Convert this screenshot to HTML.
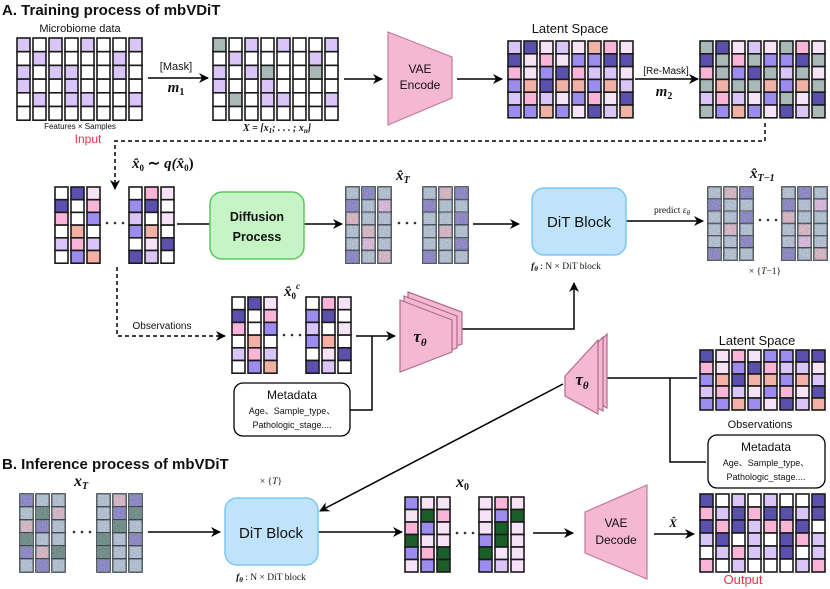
<!DOCTYPE html>
<html><head><meta charset="utf-8"><style>
body{margin:0;background:#fff}
svg{display:block}
text{font-family:"Liberation Sans",sans-serif;fill:#111}
.m{font-family:"Liberation Serif",serif;font-style:italic;font-weight:bold}
.s{font-family:"Liberation Serif",serif}
</style></head><body>
<svg id="s" width="830" height="589" viewBox="0 0 830 589" xmlns="http://www.w3.org/2000/svg">
<defs>
<marker id="a" markerWidth="10" markerHeight="10" refX="9" refY="5" orient="auto" markerUnits="userSpaceOnUse"><path d="M0,0 L10,5 L0,10 L3,5 Z" fill="#000"/></marker>
<filter id="nz" x="0" y="0" width="100%" height="100%"><feTurbulence type="fractalNoise" baseFrequency="1.3" numOctaves="1" seed="3"/><feColorMatrix type="matrix" values="1.6 0 0 0 -0.3  0 1.6 0 0 -0.3  0 0 1.8 0 -0.2  0 0 0 0 1"/></filter>
</defs>
<g id="g"></g>
<g fill="none" stroke="#000" stroke-width="1.5">
<line x1="148" y1="78" x2="208" y2="78" marker-end="url(#a)"/>
<line x1="344" y1="79" x2="382" y2="79" marker-end="url(#a)"/>
<line x1="457" y1="79" x2="502" y2="79" marker-end="url(#a)"/>
<line x1="635" y1="79" x2="698" y2="79" marker-end="url(#a)"/>
<polyline points="765,123 765,141 115,141 115,189" stroke-dasharray="4,3" marker-end="url(#a)"/>
<line x1="177" y1="224" x2="210" y2="224"/>
<line x1="304" y1="224" x2="342" y2="224" marker-end="url(#a)"/>
<line x1="473" y1="224" x2="519" y2="224" marker-end="url(#a)"/>
<line x1="626" y1="221" x2="703" y2="221" marker-end="url(#a)"/>
<polyline points="117,267 117,336 225,336" stroke-dasharray="4,3" marker-end="url(#a)"/>
<line x1="356" y1="336" x2="395" y2="336" marker-end="url(#a)"/>
<polyline points="350,410 372,410 372,336"/>
<polyline points="452,329 574,329 574,283" marker-end="url(#a)"/>
<line x1="604" y1="378" x2="697" y2="378"/>
<polyline points="670,378 670,462 706,462"/>
<line x1="563" y1="384" x2="320" y2="511" marker-end="url(#a)"/>
<line x1="148" y1="532" x2="220" y2="532" marker-end="url(#a)"/>
<line x1="318" y1="532" x2="402" y2="532" marker-end="url(#a)"/>
<line x1="533" y1="533" x2="573" y2="533" marker-end="url(#a)"/>
<line x1="654" y1="534" x2="694" y2="534" marker-end="url(#a)"/>
</g>
<g fill="#333">
<circle cx="107" cy="223" r="1.3"/><circle cx="115" cy="223" r="1.3"/><circle cx="123" cy="223" r="1.3"/>
<circle cx="399" cy="223" r="1.3"/><circle cx="407" cy="223" r="1.3"/><circle cx="415" cy="223" r="1.3"/>
<circle cx="760" cy="220" r="1.3"/><circle cx="768" cy="220" r="1.3"/><circle cx="776" cy="220" r="1.3"/>
<circle cx="284" cy="335" r="1.3"/><circle cx="292" cy="335" r="1.3"/><circle cx="300" cy="335" r="1.3"/>
<circle cx="74" cy="532" r="1.3"/><circle cx="82" cy="532" r="1.3"/><circle cx="90" cy="532" r="1.3"/>
<circle cx="457" cy="533" r="1.3"/><circle cx="465" cy="533" r="1.3"/><circle cx="473" cy="533" r="1.3"/>
</g>
<polygon points="388,32 452,57 452,98 388,125" fill="#f4b8d4" stroke="#c07a9a" stroke-width="1.2"/>
<text x="420" y="73" font-size="12" text-anchor="middle">VAE</text>
<text x="420" y="89" font-size="12" text-anchor="middle">Encode</text>
<polygon points="585,512 647,485 647,579 585,553" fill="#f4b8d4" stroke="#c07a9a" stroke-width="1.2"/>
<text x="616" y="527" font-size="12" text-anchor="middle">VAE</text>
<text x="616" y="544" font-size="12" text-anchor="middle">Decode</text>
<g fill="#f4b8d4" stroke="#b06a8a" stroke-width="1.2">
<polygon points="408,292 462,312 462,344 408,364"/>
<polygon points="404,296 457,316 457,348 404,368"/>
<polygon points="400,300 452,320 452,352 400,372"/>
</g>
<g fill="#f4b8d4" stroke="#b06a8a" stroke-width="1.2">
<polygon points="578,372 611,336 611,410 578,392" transform="translate(-4,-2)"/>
<polygon points="578,372 611,336 611,410 578,392" transform="translate(-8,1)"/>
<polygon points="578,372 611,336 611,410 578,392" transform="translate(-13,4)"/>
</g>
<text x="420" y="342" class="m" font-size="17" text-anchor="middle">τ<tspan font-size="11" dy="4">θ</tspan></text>
<text x="582" y="385" class="m" font-size="17" text-anchor="middle">τ<tspan font-size="11" dy="4">θ</tspan></text>
<rect x="210" y="192" width="94" height="67" rx="12" fill="#c6f4c6" stroke="#5cc95c" stroke-width="1.5"/>
<text x="257" y="221" font-size="12.5" font-weight="bold" text-anchor="middle">Diffusion</text>
<text x="257" y="241" font-size="12.5" font-weight="bold" text-anchor="middle">Process</text>
<rect x="532" y="188" width="94" height="67" rx="12" fill="#bfe3fa" stroke="#7cc7f5" stroke-width="1.5"/>
<text x="579" y="227" font-size="15" text-anchor="middle">DiT Block</text>
<rect x="225" y="498" width="93" height="67" rx="12" fill="#bfe3fa" stroke="#7cc7f5" stroke-width="1.5"/>
<text x="271" y="538" font-size="15" text-anchor="middle">DiT Block</text>
<rect x="234" y="383" width="116" height="53" rx="9" fill="#fff" stroke="#000" stroke-width="1.3"/>
<text x="292" y="399" font-size="12" text-anchor="middle">Metadata</text>
<text x="292" y="414" font-size="9" text-anchor="middle">Age、Sample_type、</text>
<text x="292" y="428" font-size="9" text-anchor="middle">Pathologic_stage....</text>
<rect x="708" y="435" width="117" height="53" rx="9" fill="#fff" stroke="#000" stroke-width="1.3"/>
<text x="766" y="451" font-size="12" text-anchor="middle">Metadata</text>
<text x="766" y="466" font-size="9" text-anchor="middle">Age、Sample_type、</text>
<text x="766" y="480" font-size="9" text-anchor="middle">Pathologic_stage....</text>
<text x="2" y="15" font-size="15" font-weight="bold">A.  Training process of mbVDiT</text>
<text x="2" y="469" font-size="15" font-weight="bold">B.  Inference process of mbVDiT</text>
<text x="80" y="32" font-size="11" text-anchor="middle">Microbiome data</text>
<text x="80" y="129" font-size="8" text-anchor="middle">Features × Samples</text>
<text x="88" y="143" font-size="12" text-anchor="middle" style="fill:#f03048">Input</text>
<text x="176" y="70" font-size="11" text-anchor="middle">[Mask]</text>
<text x="176" y="92" class="m" font-size="15" text-anchor="middle">m<tspan font-size="10" dy="3" font-style="normal">1</tspan></text>
<text x="277" y="131" class="m" font-size="10" text-anchor="middle" font-weight="normal">X = [x<tspan font-size="7" dy="2">1</tspan><tspan dy="-2">; . . . ; x</tspan><tspan font-size="7" dy="2">n</tspan><tspan dy="-2">]</tspan></text>
<text x="570" y="33" font-size="13" text-anchor="middle">Latent Space</text>
<text x="666" y="74" font-size="10" text-anchor="middle">[Re-Mask]</text>
<text x="664" y="96" class="m" font-size="15" text-anchor="middle">m<tspan font-size="10" dy="3" font-style="normal">2</tspan></text>
<text x="132" y="168" class="m" font-size="15">x̂<tspan font-size="9" dy="3" font-style="normal">0</tspan><tspan dy="-3" font-style="normal"> ∼ </tspan>q(x̂<tspan font-size="9" dy="3" font-style="normal">0</tspan><tspan dy="-3" font-style="normal">)</tspan></text>
<text x="396" y="180" class="m" font-size="15">x̂<tspan font-size="10" dy="3">T</tspan></text>
<text x="750" y="178" class="m" font-size="15">x̂<tspan font-size="10" dy="3">T−1</tspan></text>
<text x="672" y="213" class="s" font-size="9.5" text-anchor="middle">predict <tspan font-style="italic">ε<tspan font-size="7" dy="2">θ</tspan></tspan></text>
<text x="566" y="269" class="s" font-size="9.5" text-anchor="middle"><tspan font-style="italic" font-weight="bold">f<tspan font-size="7" dy="2">θ</tspan></tspan><tspan dy="-2"> : N  × DiT block</tspan></text>
<text x="765" y="274" class="s" font-size="9.5" text-anchor="middle">× {<tspan font-style="italic">T</tspan>−1}</text>
<text x="284" y="296" class="m" font-size="15">x̂<tspan font-size="9" dy="3" font-style="normal">0</tspan><tspan font-size="9" dy="-10">c</tspan></text>
<text x="162" y="329" font-size="10" text-anchor="middle">Observations</text>
<text x="757" y="345" font-size="13" text-anchor="middle">Latent Space</text>
<text x="760" y="428" font-size="11" text-anchor="middle">Observations</text>
<text x="74" y="486" class="m" font-size="16">x<tspan font-size="10" dy="3">T</tspan></text>
<text x="271" y="484" class="s" font-size="9.5" text-anchor="middle">× {<tspan font-style="italic">T</tspan>}</text>
<text x="271" y="580" class="s" font-size="9.5" text-anchor="middle"><tspan font-style="italic" font-weight="bold">f<tspan font-size="7" dy="2">θ</tspan></tspan><tspan dy="-2"> : N  × DiT block</tspan></text>
<text x="456" y="487" class="m" font-size="16">x<tspan font-size="10" dy="3" font-style="normal">0</tspan></text>
<text x="673" y="527" class="m" font-size="12" text-anchor="middle" font-weight="normal">X̂</text>
<text x="743" y="584" font-size="13" text-anchor="middle" style="fill:#f03048">Output</text>
</svg>
<script>
var C={w:"#ffffff",l:"#d9c5f7",d:"#5b50ad",m:"#9c8cf0",p:"#f9b4d8",v:"#f6e3f8",s:"#f3b1a6",g:"#a9b9b7",G:"#1b5e2a",t:"#a9c6c4"};
var G=document.getElementById("g"),NS="http://www.w3.org/2000/svg";
function R(x,y,w,h,f,n){var r=document.createElementNS(NS,"rect");r.setAttribute("x",x);r.setAttribute("y",y);r.setAttribute("width",w);r.setAttribute("height",h);r.setAttribute("fill",f);r.setAttribute("stroke",n?"#2d3a3a":"#1a1a1a");r.setAttribute("stroke-width","1.6");G.appendChild(r);
if(n){var q=document.createElementNS(NS,"rect");q.setAttribute("x",x);q.setAttribute("y",y);q.setAttribute("width",w);q.setAttribute("height",h);q.setAttribute("filter","url(#nz)");q.setAttribute("opacity","0.55");G.appendChild(q);}}
function grid(x,y,rows,px,cw,ph,n){rows.forEach(function(r,i){r.split("").forEach(function(c,j){R(x+j*px,y+i*ph,cw,ph,C[c],n);});});}
var inp=["lwlwlwwl","wlwwwwlw","lwllwwlw","lwwlwwww","wlwllwwl","wwwwwwww"];
var msk=["gwlwlwwl","wlwwwwlw","lwlgwwgw","lwwlwwww","wgwllwwl","wwwwwwww"];
var lat=["ldvlvspv","dvpvmmdd","pvmdpllv","msdssmsl","lplvmpvd","mmsmvdls"];
var rem=["gdvlvgpv","dgpgmmdg","pgmdglgv","gsggsmsg","lplvmgvd","gmsmvdlg"];
var A=["wdv","dwp","pwm","wsw","lpl","wms"],B=["wpv","mdw","lwv","msw","wvd","dlw"];
var nA=["tdt","dtp","stt","tst","tpt","dts"],nB=["tsd","dtt","ttd","tst","ttd","dtt"];
var x0a=["mvv","vGp","pmv","Gvv","mpG","vmG"],x0b=["vpv","vmG","vGv","mGv","Gvv","mlv"];
var xTa=["dtt","tGs","sdt","Gtt","dsG","tdt"],xTb=["tsd","tdG","tGt","Gtd","Gtt","dtt"];
var out=["dwlwlwwd","pldpddld","dpdlppdw","ldwlwdpl","wlplldwl","pwlwwwlp"];
grid(17,38,inp,16,13,13.7);
grid(213,38,msk,16,13,13.7);
grid(508,41,lat,16,13,12.8);
grid(700,41,rem,16,13,12.8);
grid(55,187,A,16,13,12.7);grid(129,187,B,16,13,12.7);
grid(346,187,nA,16,13,12.7,1);grid(423,187,nB,16,13,12.7,1);
grid(708,187,nB,16,13,12.2,1);grid(782,187,nA,16,13,12.2,1);
grid(232,297,A,16,13,12.7);grid(306,297,B,16,13,12.7);
grid(700,350,lat.slice(1),16,13,12);
grid(20,494,xTa,16,13,13,1);grid(97,494,xTb,16,13,13,1);
grid(405,497,x0a,16,13,12.5);grid(479,497,x0b,16,13,12.5);
grid(700,494,out,16,13,13);
</script>
</body></html>
